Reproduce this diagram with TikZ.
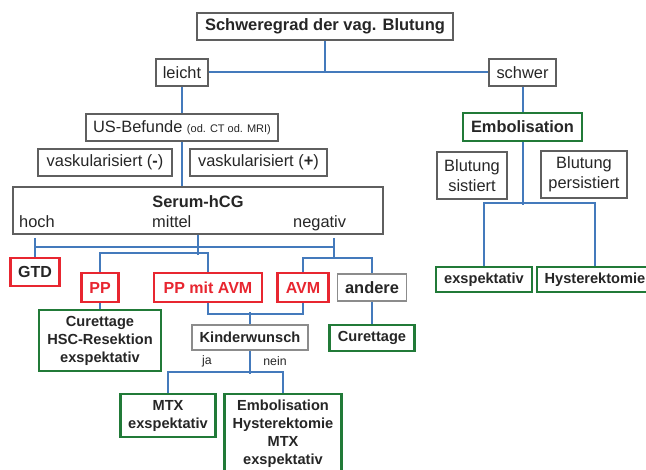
\documentclass[tikz,border=0pt]{standalone}
\usepackage{fontspec}
\setmainfont{Liberation Sans}

\definecolor{blau}{RGB}{68,122,188}
\definecolor{gruen}{RGB}{33,122,56}
\definecolor{rot}{RGB}{232,38,48}
\definecolor{randgrau}{RGB}{95,95,95}
\definecolor{randhell}{RGB}{140,140,140}
\definecolor{textgrau}{RGB}{38,38,38}

\begin{document}
\begin{tikzpicture}[x=1pt,y=-1pt,font=\fontsize{16.4}{20}\selectfont,text=textgrau]
\tikzset{
    %Standard box
    kasten/.style={
           rectangle,
           draw=randgrau, line width=1.1pt,
           fill=white,
           inner sep=0pt,
           align=center},
    kastenhell/.style={
           kasten,
           draw=randhell},
    % green and red boxes
    gruenkasten/.style={
           kasten,
           draw=gruen, line width=2.4pt,
           font=\bfseries\fontsize{14.6}{18}\selectfont},
    rotkasten/.style={
           kasten,
           draw=rot, line width=2.4pt,
           text=rot,
           font=\bfseries\fontsize{16}{20}\selectfont},
    % connector style
    linie/.style={
           draw=blau,
           line width=2pt},
    klein/.style={
           font=\fontsize{12.3}{14}\selectfont}
}
	\useasboundingbox (0,0) rectangle (646,470);
 %nodes
	\node[kasten,minimum width=256,minimum height=27,font=\bfseries\fontsize{16.5}{20}\selectfont] (schwere) at (325,26.5) {Schweregrad der vag. Blutung};

	\node[kasten,minimum width=52,minimum height=27] (leicht) at (182,72.5) {leicht};
	\node[kasten,minimum width=67,minimum height=27] (schwer) at (522.5,72.5) {schwer};

	\node[kasten,minimum width=192,minimum height=27] (us) at (182,127.5) {US-Befunde {\fontsize{11}{13}\selectfont(od. CT od. MRI)}};
	\node[gruenkasten,minimum width=119,minimum height=28,font=\bfseries\fontsize{16.4}{20}\selectfont] (embo) at (522.5,127) {Embolisation};

	\node[kasten,minimum width=134,minimum height=27] (vaskneg) at (105,162.5) {vaskularisiert (\textbf{-})};
	\node[kasten,minimum width=137,minimum height=27] (vaskpos) at (258.5,162.5) {vaskularisiert (\textbf{+})};

	\node[kasten,minimum width=370,minimum height=47] (serum) at (198,210.5) {};
	\node[font=\bfseries\fontsize{16.4}{20}\selectfont] (serumtitel) at (198,202) {Serum-hCG};
	\node[anchor=base west,inner sep=0pt] (hoch) at (19,227.5) {hoch};
	\node[anchor=base west,inner sep=0pt] (mittel) at (152,227.5) {mittel};
	\node[anchor=base west,inner sep=0pt] (negativ) at (293,227.5) {negativ};

	\node[kasten,minimum width=70,minimum height=47] (sistiert) at (472,175.5) {Blutung\\sistiert};
	\node[kasten,minimum width=86,minimum height=47] (persist) at (584,174.5) {Blutung\\persistiert};

	\node[gruenkasten,minimum width=96,minimum height=25] (abwarten) at (484,279.5) {exspektativ};
	\node[gruenkasten,minimum width=116,minimum height=25] (hyster) at (595,279.5) {Hysterektomie};

	\node[rotkasten,text=textgrau,minimum width=49,minimum height=28] (gtd) at (35,272) {GTD};
	\node[rotkasten,minimum width=37,minimum height=29] (pp) at (100,287.5) {PP};
	\node[rotkasten,minimum width=108,minimum height=29] (ppavm) at (208,287.5) {PP mit AVM};
	\node[rotkasten,minimum width=51,minimum height=29] (avm) at (303,287.5) {AVM};
	\node[kastenhell,minimum width=69,minimum height=27,font=\bfseries\fontsize{16.4}{20}\selectfont] (andere) at (372,287.5) {andere};

	\node[gruenkasten,minimum width=122,minimum height=61] (che) at (100,340.5) {Curettage\\HSC-Resektion\\exspektativ};
	\node[kastenhell,minimum width=116,minimum height=25,font=\bfseries\fontsize{14.6}{18}\selectfont] (kw) at (250,337.5) {Kinderwunsch};
	\node[gruenkasten,minimum width=85,minimum height=26] (curett) at (372,338) {Curettage};

	\node[klein] (ja) at (207,361) {ja};
	\node[klein] (nein) at (275,361) {nein};

	\node[gruenkasten,minimum width=95,minimum height=43] (mtx) at (168,415.5) {MTX\\exspektativ};
	\node[gruenkasten,minimum width=117,minimum height=80] (ehme) at (283,434) {Embolisation\\Hysterektomie\\MTX\\exspektativ};

 %connectors
	\draw[linie] (leicht.east) -- (schwer.west);
	\draw[linie] (schwere.south) -- (schwere.south |- leicht.east);
	\draw[linie] (leicht.south) -- (us.north);
	\draw[linie] (schwer.south) -- (embo.north);
	\draw[linie] (us.south) -- (us.south |- serum.north);

	\coordinate (hochpkt) at (35,238);
	\coordinate (negpkt) at (334,238);
	\draw[linie] (hochpkt) -- (gtd.north);
	\draw[linie] (hochpkt) ++(0,9) -| (negpkt);
	\draw[linie] (negpkt) -- ++(0,21);
	\draw[linie] (avm.north) -- ++(0,-14) -| (andere.north);
	\draw[linie] (serum.south) -- ++(0,20);
	\draw[linie] (pp.north) -- ++(0,-19) -| (ppavm.north);

	\draw[linie] (pp.south) -- (che.north);
	\draw[linie] (ppavm.south) -- ++(0,11) -| (avm.south);
	\draw[linie] (kw.north) -- ++(0,-12);
	\draw[linie] (andere.south) -- (curett.north);
	\draw[linie] (kw.south) -- ++(0,23);
	\draw[linie] (mtx.north) -- ++(0,-21) -| (ehme.north);

	\draw[linie] (embo.south) -- ++(0,63);
	\draw[linie] (abwarten.north) -- ++(0,-63) -| (hyster.north);

\end{tikzpicture}
\end{document}
